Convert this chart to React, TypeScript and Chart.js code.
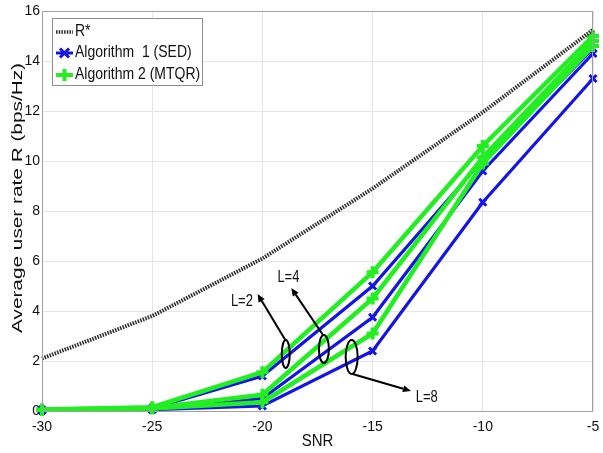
import React, { useEffect, useRef } from "react";
import { Chart, registerables } from "chart.js";

Chart.register(...registerables);

const SNR = [-30, -25, -20, -15, -10, -5];
const R_STAR = [2.1, 3.8, 6.1, 8.9, 11.95, 15.25];
const SED_L2 = [0.05, 0.1, 1.4, 5.0, 10.05, 14.5];
const SED_L4 = [0.03, 0.07, 0.5, 3.75, 9.6, 14.3];
const SED_L8 = [0.02, 0.05, 0.2, 2.4, 8.35, 13.3];
const MTQR_L2 = [0.06, 0.15, 1.55, 5.55, 10.6, 15.0];
const MTQR_L4 = [0.05, 0.12, 0.65, 4.5, 10.15, 14.8];
const MTQR_L8 = [0.04, 0.1, 0.35, 3.1, 9.9, 14.6];

const X_TICKS = [-30, -25, -20, -15, -10, -5];
const Y_TICKS = [0, 2, 4, 6, 8, 10, 12, 14, 16];
const X_TITLE = "SNR";
const Y_TITLE = "Average user rate R (bps/Hz)";
const LEGEND_LABELS = ["R*", "Algorithm  1 (SED)", "Algorithm 2 (MTQR)"];

// annotation anchors in data coordinates
const ANN_LABELS = ["L=2", "L=4", "L=8"];
const ANN_ELLIPSE = [[-18.94, 2.28], [-17.21, 2.48], [-15.95, 2.16]];
const ANN_FROM = [[-18.96, 2.84], [-17.25, 3.04], [-15.91, 1.48]];
const ANN_TO = [[-20.22, 4.68], [-18.69, 4.92], [-13.26, 0.8]];
const ANN_TEXT = [[-20.93, 4.36], [-18.82, 5.32], [-12.54, 0.52]];

const FONT = "'Liberation Sans', Arial, sans-serif";
const BLUE = "#1414e6";
const GREEN = "#22ee22";
const DARK = "#2a2a2a";

const pts = (ys: number[]) => SNR.map((x, i) => ({ x, y: ys[i] }));

function drawText(
  ctx: CanvasRenderingContext2D,
  text: string,
  x: number,
  y: number,
  size: number,
  opts: { sy?: number; rotate?: boolean; length?: number; align?: CanvasTextAlign } = {}
) {
  ctx.save();
  ctx.translate(x, y);
  if (opts.rotate) ctx.rotate(-Math.PI / 2);
  ctx.font = `${size}px ${FONT}`;
  let sx = 1;
  if (opts.length) sx = opts.length / ctx.measureText(text).width;
  ctx.scale(sx, opts.sy ?? 1);
  ctx.fillStyle = "#111";
  ctx.textAlign = opts.align ?? "center";
  ctx.textBaseline = "middle";
  ctx.fillText(text, 0, 0);
  ctx.restore();
}

const overlay = {
  id: "overlay",
  afterDatasetsDraw(chart: any) {
    const { ctx, chartArea: a, scales } = chart;
    const xs = scales.x;
    const ys = scales.y;
    ctx.save();
    // axes box
    ctx.strokeStyle = "#a0a0a0";
    ctx.lineWidth = 1;
    ctx.strokeRect(Math.round(a.left) + 0.5, Math.round(a.top) + 0.5, Math.round(a.right - a.left) - 1, Math.round(a.bottom - a.top));

    // annotations
    const ELL_R = [[4, 14], [5, 14], [6, 17]];
    ctx.strokeStyle = "#000";
    ctx.fillStyle = "#000";
    ctx.lineWidth = 2;
    for (let i = 0; i < ANN_LABELS.length; i++) {
      const cx = xs.getPixelForValue(ANN_ELLIPSE[i][0]);
      const cy = ys.getPixelForValue(ANN_ELLIPSE[i][1]);
      ctx.beginPath();
      ctx.ellipse(cx, cy, ELL_R[i][0], ELL_R[i][1], 0, 0, Math.PI * 2);
      ctx.stroke();
      const fx = xs.getPixelForValue(ANN_FROM[i][0]);
      const fy = ys.getPixelForValue(ANN_FROM[i][1]);
      const tx = xs.getPixelForValue(ANN_TO[i][0]);
      const ty = ys.getPixelForValue(ANN_TO[i][1]);
      const ang = Math.atan2(ty - fy, tx - fx);
      const hl = 8, hw = 3.5;
      const bx = tx - hl * Math.cos(ang);
      const by = ty - hl * Math.sin(ang);
      ctx.beginPath();
      ctx.moveTo(fx, fy);
      ctx.lineTo(bx, by);
      ctx.stroke();
      ctx.beginPath();
      ctx.moveTo(tx, ty);
      ctx.lineTo(bx + hw * Math.sin(ang), by - hw * Math.cos(ang));
      ctx.lineTo(bx - hw * Math.sin(ang), by + hw * Math.cos(ang));
      ctx.closePath();
      ctx.fill();
      drawText(ctx, ANN_LABELS[i], xs.getPixelForValue(ANN_TEXT[i][0]), ys.getPixelForValue(ANN_TEXT[i][1]), 13, { sy: 1.25 });
    }

    // legend
    const lx = 52, ly = 18, lw = 150, lh = 67;
    ctx.fillStyle = "#fff";
    ctx.fillRect(lx, ly, lw, lh);
    ctx.strokeStyle = "#8c8c8c";
    ctx.lineWidth = 1;
    ctx.strokeRect(lx + 0.5, ly + 0.5, lw, lh);
    const rows = [32, 53, 75];
    const sx0 = 56, sx1 = 73, smid = 64.5;
    // R*
    ctx.strokeStyle = DARK;
    ctx.lineWidth = 3.5;
    ctx.setLineDash([1.5, 1.2]);
    ctx.beginPath();
    ctx.moveTo(sx0, rows[0]);
    ctx.lineTo(sx1, rows[0]);
    ctx.stroke();
    ctx.setLineDash([]);
    // SED
    ctx.strokeStyle = BLUE;
    ctx.lineWidth = 3;
    ctx.beginPath();
    ctx.moveTo(sx0, rows[1]);
    ctx.lineTo(sx1, rows[1]);
    ctx.moveTo(smid - 4.5, rows[1] - 4.5);
    ctx.lineTo(smid + 4.5, rows[1] + 4.5);
    ctx.moveTo(smid - 4.5, rows[1] + 4.5);
    ctx.lineTo(smid + 4.5, rows[1] - 4.5);
    ctx.stroke();
    // MTQR
    ctx.strokeStyle = GREEN;
    ctx.lineWidth = 4;
    ctx.beginPath();
    ctx.moveTo(sx0, rows[2]);
    ctx.lineTo(sx1, rows[2]);
    ctx.moveTo(smid, rows[2] - 6);
    ctx.lineTo(smid, rows[2] + 6);
    ctx.stroke();
    for (let i = 0; i < 3; i++) {
      drawText(ctx, LEGEND_LABELS[i], 75, rows[i], 14, { sy: 1.15, align: "left" });
    }
    ctx.restore();
  },
  afterDraw(chart: any) {
    const { ctx, chartArea: a } = chart;
    drawText(ctx, Y_TITLE, 17.5, 198, 15, { rotate: true, length: 270 });
    drawText(ctx, X_TITLE, (a.left + a.right) / 2, 441, 15, { sy: 1.1 });
  },
};

export default function App() {
  const ref = useRef<HTMLCanvasElement>(null);
  useEffect(() => {
    document.body.style.margin = "0";
    const lineDs = (label: string, data: number[], color: string, width: number, style: string, radius: number, bw: number) => ({
      label,
      data: pts(data),
      borderColor: color,
      backgroundColor: color,
      borderWidth: width,
      pointStyle: style,
      pointRadius: radius,
      pointBorderWidth: bw,
      pointBorderColor: color,
      pointBackgroundColor: color,
      tension: 0,
      clip: false as any,
    });
    const chart = new Chart(ref.current!, {
      type: "line",
      data: {
        datasets: [
          {
            label: LEGEND_LABELS[0],
            data: pts(R_STAR),
            borderColor: DARK,
            borderWidth: 4,
            borderDash: [1.5, 1.2],
            pointRadius: 0,
            tension: 0,
            clip: false as any,
          },
          lineDs("MTQR L=2", MTQR_L2, GREEN, 4.5, "cross", 6, 4),
          lineDs("MTQR L=4", MTQR_L4, GREEN, 4.5, "cross", 6, 4),
          lineDs("MTQR L=8", MTQR_L8, GREEN, 4.5, "cross", 6, 4),
          lineDs("SED L=2", SED_L2, BLUE, 3.2, "crossRot", 5, 3),
          lineDs("SED L=4", SED_L4, BLUE, 3.2, "crossRot", 5, 3),
          lineDs("SED L=8", SED_L8, BLUE, 3.2, "crossRot", 5, 3),
        ],
      },
      options: {
        responsive: false,
        animation: false,
        devicePixelRatio: 1,
        layout: { padding: { top: 11, right: 4, left: 0, bottom: 0 } },
        plugins: { legend: { display: false }, tooltip: { enabled: false } },
        scales: {
          x: {
            type: "linear",
            min: -30,
            max: -5,
            afterBuildTicks: (s: any) => {
              s.ticks = X_TICKS.map((v) => ({ value: v }));
            },
            ticks: { font: { family: FONT, size: 14 }, color: "#111", padding: 8, maxRotation: 0, autoSkip: false },
            grid: { color: "#e6e6e6", drawTicks: false },
            border: { display: false },
            afterFit: (s: any) => {
              s.height = 42;
              s.paddingLeft = 0;
              s.paddingRight = 0;
            },
          },
          y: {
            type: "linear",
            min: 0,
            max: 16,
            afterBuildTicks: (s: any) => {
              s.ticks = Y_TICKS.map((v) => ({ value: v }));
            },
            ticks: { font: { family: FONT, size: 14 }, color: "#111", padding: 2, autoSkip: false },
            grid: { color: "#e6e6e6", drawTicks: false },
            border: { display: false },
            afterFit: (s: any) => {
              s.width = 42;
              s.paddingTop = 0;
              s.paddingBottom = 0;
            },
          },
        },
      },
      plugins: [overlay],
    });
    return () => chart.destroy();
  }, []);
  return (
    <div style={{ width: 603, height: 453 }}>
      <canvas ref={ref} width={603} height={453} style={{ display: "block" }} />
    </div>
  );
}
